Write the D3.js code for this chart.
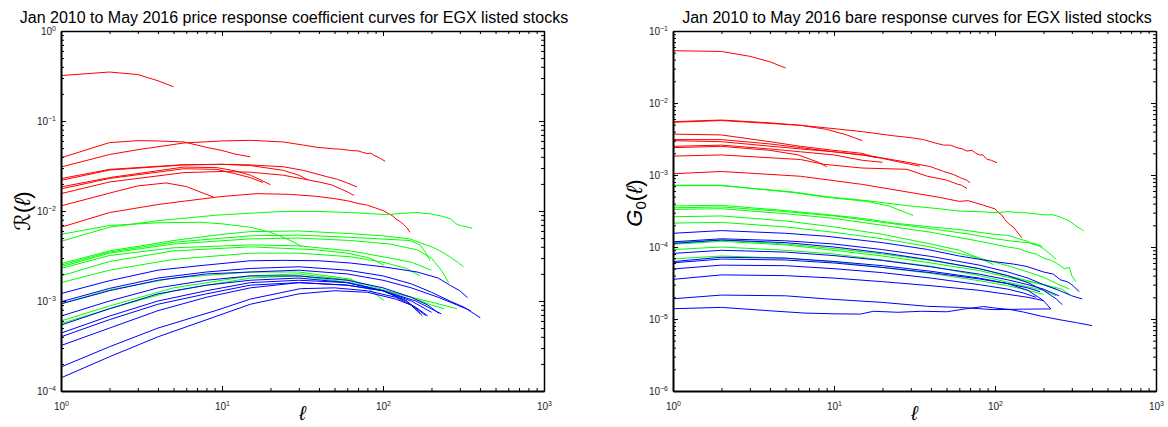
<!DOCTYPE html>
<html><head><meta charset="utf-8">
<script src="https://cdn.jsdelivr.net/npm/d3@7"></script>
<style>
body{margin:0;background:#fff;}
svg text{font-family:"Liberation Sans",Arial,Helvetica,sans-serif;}
</style>
</head><body>
<svg id="chart" width="1168" height="427"></svg>
<script>
// ---------- tick labels / axes ----------
const xTickExps = [0, 1, 2, 3];
const leftYTickExps = [-4, -3, -2, -1, 0];
const rightYTickExps = [-6, -5, -4, -3, -2, -1];
const leftTitle = "Jan 2010 to May 2016 price response coefficient curves for EGX listed stocks";
const rightTitle = "Jan 2010 to May 2016 bare response curves for EGX listed stocks";

// ---------- LEFT panel: price response coefficient R(l), series of [lag, value] ----------
const leftRed = [
  [[1,0.32],[2,0.35],[3,0.328],[4,0.28],[5,0.24]],
  [[1,0.039],[2,0.0575],[3,0.0605],[4,0.0600],[5.8,0.0585],[8,0.051],[10,0.047],[12,0.043],[15,0.040]],
  [[1,0.0308],[2,0.0424],[3,0.048],[5.8,0.057],[10,0.060],[15,0.061],[24,0.0585],[32,0.054],[39,0.051],[50,0.049],[56,0.0485],[63,0.047],[70,0.0465],[75,0.0448],[80,0.0434],[84,0.044],[88,0.0415],[95,0.039],[103,0.0357]],
  [[1,0.0229],[2,0.029],[5.8,0.0327],[10,0.033],[15,0.032],[24,0.0283],[30,0.025],[34,0.0223]],
  [[1,0.0219],[2,0.0285],[5.8,0.0325],[10,0.033],[15,0.0325],[24,0.031],[32,0.0283],[45,0.024],[52,0.0225],[60,0.0205],[69,0.0185]],
  [[1,0.0185],[2,0.0235],[5.8,0.0308],[9.3,0.0303],[12,0.028],[15,0.025],[18,0.0215],[20,0.0196]],
  [[1,0.0176],[2,0.023],[5.8,0.0295],[9.3,0.029],[12,0.026],[15,0.0235],[18,0.0207]],
  [[1,0.0156],[2,0.021],[5.8,0.0267],[10,0.0275],[15,0.027],[24,0.025],[40,0.021],[48,0.0195],[55,0.0175],[60,0.0163],[66,0.0149]],
  [[1,0.0114],[2,0.0158],[3,0.019],[4.5,0.0205],[6,0.0187],[7.5,0.016],[8.85,0.0143]],
  [[1,0.0066],[2,0.0096],[4,0.0118],[5.9,0.0129],[10,0.0145],[16.5,0.0156],[26.6,0.0153],[38,0.0146],[49,0.0138],[60,0.013],[69,0.0122],[80,0.0116],[90,0.0108],[100,0.0101],[108,0.0094],[115,0.0088],[122,0.0080],[128,0.0076],[134,0.0071],[140,0.0066],[147,0.0058]]
];
const leftGreen = [
  [[1,0.0055],[2,0.0069],[4,0.0074],[7.3,0.0075],[10,0.0072],[15,0.0066],[20,0.0058],[24,0.0051],[28,0.0045],[31.5,0.0040]],
  [[1,0.0046],[2,0.0066],[4,0.0078],[9.3,0.0090],[24,0.0099],[40,0.0099],[63,0.0096],[106,0.0091],[130,0.0094],[163,0.0096],[196,0.0093],[230,0.0088],[262,0.0082],[285,0.0072],[302,0.0069],[330,0.0067],[358,0.0064]],
  [[1,0.0026],[2,0.0036],[5,0.0047],[10,0.0055],[15,0.0059],[30,0.0060],[63,0.0056],[100,0.0053],[147,0.0049],[207,0.0039],[240,0.0034],[260,0.0031],[290,0.0027],[316,0.0024]],
  [[1,0.0025],[2,0.0035],[5,0.0045],[15,0.0053],[30,0.0054],[63,0.0051],[147,0.0047],[170,0.0042],[185,0.0034],[196,0.0028]],
  [[1,0.0024],[2,0.0034],[5,0.0043],[15,0.0049],[30,0.0050],[63,0.0047],[110,0.0043],[163,0.0037],[200,0.0030],[230,0.0022],[256,0.0016]],
  [[1,0.0023],[2,0.0032],[5,0.0039],[15,0.0042],[30,0.0041],[63,0.0036],[100,0.0031],[150,0.0027],[200,0.0022]],
  [[1,0.0019],[2,0.00275],[5,0.0036],[15,0.0040],[39,0.0037],[60,0.0034],[83,0.0030],[101,0.0025]],
  [[1,0.0016],[2,0.0022],[5,0.0029],[15,0.0034],[30,0.0034],[63,0.0031],[100,0.0027],[140,0.0023],[170,0.0019]],
  [[1,0.00093],[2,0.00133],[5,0.0018],[15,0.0021],[30,0.0021],[63,0.00175],[80,0.0014],[101,0.00102]],
  [[1,0.0006],[2,0.00088],[5,0.0014],[15,0.0019],[30,0.0020],[63,0.0017],[101,0.00133],[150,0.0011],[220,0.00093],[288,0.00082]],
  [[1,0.00056],[2,0.00082],[5,0.0013],[15,0.0018],[30,0.0019],[63,0.0016],[101,0.0013],[150,0.0011],[200,0.0009],[240,0.00082]]
];
const leftBlue = [
  [[1,0.00121],[2,0.00168],[4,0.0022],[7.3,0.00247],[15,0.0028],[24,0.00283],[40,0.0028],[63,0.00264],[100,0.0024],[163,0.0021],[220,0.0018],[262,0.00149],[300,0.0013],[335,0.00109]],
  [[1,0.00098],[2,0.00138],[4,0.0018],[8,0.0021],[15,0.0023],[30,0.0024],[60,0.0022],[100,0.0019],[150,0.00155],[200,0.00125],[260,0.0010],[320,0.00085],[402,0.00065]],
  [[1,0.00093],[2,0.0013],[4,0.0017],[8,0.0020],[15,0.0021],[30,0.0022],[60,0.0020],[100,0.0017],[150,0.0014],[220,0.0011],[290,0.0009],[350,0.00078]],
  [[1,0.00068],[2,0.0010],[4,0.0014],[8,0.0017],[15,0.0019],[30,0.0019],[60,0.0017],[100,0.0014],[150,0.0011],[190,0.0009],[222,0.00073]],
  [[1,0.00054],[2,0.00082],[4,0.0012],[8,0.0015],[15,0.0017],[30,0.0018],[60,0.0016],[100,0.0013],[140,0.0010],[184,0.00069]],
  [[1,0.00044],[2,0.00068],[4,0.0010],[8,0.0013],[15,0.0016],[30,0.0017],[60,0.0016],[100,0.0013],[140,0.0010],[170,0.00073]],
  [[1,0.0004],[2,0.00062],[4,0.00092],[8,0.0012],[15,0.0015],[30,0.0016],[60,0.0015],[100,0.0013],[150,0.0010],[200,0.00075]],
  [[1,0.00032],[2,0.0005],[4,0.00078],[8,0.0011],[15,0.0014],[30,0.0016],[60,0.0015],[100,0.0013],[160,0.0010],[230,0.00072]],
  [[1,0.000185],[2,0.00031],[4,0.0005],[9.3,0.00079],[15,0.00105],[30.6,0.00137],[50,0.0014],[80,0.0013],[120,0.0011],[160,0.00085],[190,0.00068]],
  [[1,0.00014],[2,0.00024],[4,0.0004],[9.3,0.00068],[15,0.00092],[30,0.0012],[50,0.0013],[80,0.00125],[120,0.00105],[150,0.0009],[175,0.00069]]
];

// ---------- RIGHT panel: bare response G0(l), series of [lag, value] ----------
const rightRed = [
  [[1,0.0532],[2,0.052],[3,0.0445],[4,0.0374],[5,0.0306]],
  [[1,0.0055],[2,0.0058],[4,0.0053],[6.2,0.0049],[9,0.0043],[12,0.0036],[15,0.0030]],
  [[1,0.0054],[2,0.0057],[4,0.0052],[6.2,0.0049],[10,0.0044],[15,0.0040],[23.5,0.0035],[30,0.0033],[36,0.0031],[42,0.0028],[48,0.0026],[53,0.0026],[58,0.0024],[63,0.0023],[67,0.00215],[72,0.0022],[76,0.0020],[80,0.0019],[84,0.0019],[89,0.00165],[95,0.0016],[100,0.00152],[103,0.00148]],
  [[1,0.0037],[2,0.0036],[4,0.0029],[6.2,0.0025],[10,0.0022],[14.9,0.0020],[18.4,0.00173]],
  [[1,0.0031],[2,0.0031],[4,0.0027],[6.2,0.0024],[10,0.0021],[15,0.0019],[20,0.0017],[26,0.0015],[34,0.00133]],
  [[1,0.0030],[2,0.0029],[6.2,0.0023],[10,0.0021],[16.8,0.00184],[29.7,0.00148],[40,0.0013],[48,0.00112],[55,0.00102],[62,0.0009],[66,0.00086],[70,0.00078]],
  [[1,0.0025],[2,0.0026],[4,0.0023],[6.2,0.0021],[10,0.0019],[15,0.0016],[20,0.0015]],
  [[1,0.0024],[2,0.0025],[4,0.0022],[6,0.0019],[8,0.0015],[9,0.0013]],
  [[1,0.00183],[2,0.0019],[6.2,0.00164],[8.6,0.00141],[14.9,0.00125],[28.4,0.0012],[38,0.00096],[50,0.00085],[58,0.00075],[62,0.00072],[67,0.00065]],
  [[1,0.00104],[2,0.00112],[6.2,0.00096],[15,0.00074],[30,0.00057],[45,0.00049],[60,0.00043],[68,0.00044],[76,0.00041],[85,0.00038],[95,0.00035],[100,0.00034],[105,0.0003],[110,0.00028],[115,0.00024],[125,0.0002],[130,0.00019],[135,0.00017],[147,0.000134]]
];
const rightGreen = [
  [[1,0.00072],[2,0.00072],[5.6,0.00057],[9,0.00049],[16,0.00043],[22,0.00037],[27,0.00031],[31,0.000274]],
  [[1,0.00071],[2,0.00071],[5.6,0.00058],[9,0.0005],[16,0.00044],[30,0.00037],[45,0.00034],[61,0.000314],[80,0.00031],[100,0.0003],[120,0.00031],[140,0.0003],[158,0.000298],[200,0.00028],[230,0.00028],[255,0.00026],[290,0.00023],[324,0.00019],[340,0.00018],[356,0.000166]],
  [[1,0.000372],[2,0.00038],[5,0.00032],[9,0.000282],[15,0.00025],[23.5,0.000215],[40,0.00019],[61,0.000174],[80,0.00016],[100,0.00015],[120,0.000145],[144,0.000128],[160,0.00012],[170,0.00011],[185,0.000105],[200,0.000095],[220,0.00008],[240,0.000067]],
  [[1,0.00035],[2,0.00036],[5,0.00031],[10,0.00027],[20,0.00022],[40,0.00018],[70,0.00015],[100,0.00013],[130,0.00012],[160,0.000115],[180,0.00011],[196,0.000102]],
  [[1,0.000333],[2,0.00034],[5,0.00029],[10,0.00025],[20,0.0002],[40,0.00016],[80,0.00012],[120,0.0001],[140,0.000095],[160,0.000085],[180,0.00008],[200,0.00007],[220,0.000066],[240,0.00006],[270,0.00005],[290,0.000052],[300,0.00004],[318,0.000033]],
  [[1,0.000263],[2,0.00027],[5,0.00023],[10,0.00019],[20,0.00015],[40,0.00011],[60,0.00009],[80,0.00007],[98,0.000057]],
  [[1,0.000215],[2,0.00022],[5,0.00019],[10,0.00016],[20,0.00013],[40,0.0001],[80,0.00007],[120,0.000055],[160,0.000045],[200,0.000038],[250,0.00003],[290,0.000026]],
  [[1,0.000115],[2,0.000125],[5,0.00011],[10,0.000095],[20,0.00008],[40,0.000065],[80,0.00005],[120,0.00004],[160,0.000034],[200,0.00003],[240,0.000026]],
  [[1,0.000109],[2,0.00012],[5,0.000107],[10,0.00009],[20,0.000075],[40,0.00006],[80,0.000047],[120,0.000038],[160,0.000033],[200,0.00003],[260,0.000026],[290,0.000022]],
  [[1,0.000092],[2,0.0001],[5,0.00009],[10,0.00008],[20,0.000066],[40,0.000054],[80,0.00004],[140,0.00003],[200,0.000025],[240,0.000021]],
  [[1,0.0000682],[2,0.000075],[5,0.00007],[10,0.000062],[20,0.000052],[40,0.000043],[80,0.000034],[120,0.000029],[160,0.000025],[200,0.000022]]
];
const rightBlue = [
  [[1,0.000155],[2,0.000169],[5,0.000155],[9,0.000141],[20,0.000115],[38,0.0000925],[60,0.000075],[98,0.0000627],[130,0.000058],[158,0.0000536],[200,0.000045],[230,0.000042],[255,0.000035],[280,0.000033],[300,0.00003],[334,0.000024]],
  [[1,0.000118],[2,0.00013],[5,0.000122],[10,0.00011],[20,0.000092],[40,0.000074],[80,0.000056],[120,0.000045],[160,0.000037],[200,0.00003],[250,0.000025],[300,0.000021],[348,0.000019]],
  [[1,0.000112],[2,0.000125],[5,0.000115],[10,0.0001],[20,0.000083],[40,0.000066],[80,0.00005],[120,0.00004],[160,0.000032],[200,0.000025],[240,0.000019],[262,0.0000158]],
  [[1,0.0000814],[2,0.00009],[5,0.000085],[10,0.000076],[20,0.000065],[40,0.000053],[80,0.000042],[120,0.000035],[160,0.00003],[200,0.000026],[250,0.000021]],
  [[1,0.0000627],[2,0.000072],[5,0.00007],[10,0.000063],[20,0.000055],[40,0.000046],[80,0.000037],[120,0.000031],[160,0.000025],[200,0.000018],[222,0.0000138]],
  [[1,0.0000603],[2,0.000068],[5,0.000066],[10,0.00006],[20,0.000052],[40,0.000044],[80,0.000036],[120,0.000031],[160,0.000027],[190,0.000024]],
  [[1,0.0000495],[2,0.000056],[5,0.000055],[10,0.00005],[20,0.000044],[40,0.000037],[80,0.00003],[120,0.000026],[150,0.000023],[180,0.00002]],
  [[1,0.0000355],[2,0.000041],[5,0.00004],[10,0.000037],[20,0.000033],[40,0.000029],[80,0.000025],[120,0.000022],[160,0.00002],[200,0.000018]],
  [[1,0.0000191],[2,0.0000215],[5,0.000021],[9,0.000019],[20,0.000017],[38,0.000015],[60,0.0000145],[98,0.0000135],[150,0.0000137],[222,0.0000138]],
  [[1,0.0000139],[2,0.0000145],[4,0.000013],[6.5,0.0000121],[10,0.0000118],[14.6,0.0000117],[17.6,0.0000128],[25,0.0000124],[35,0.0000128],[50,0.0000126],[65,0.0000138],[85,0.0000149],[100,0.0000142],[125,0.0000135],[150,0.0000125],[192,0.000011],[250,0.0000098],[320,0.0000089],[400,0.0000081]]
];

const colors = {red:"#ff0000", green:"#00ff00", blue:"#0000ff"};

const svg = d3.select("#chart");

const panels = [
  {x0:61, x1:544, y0:31, y1:391, yDom:[1e-4,1], yExps:leftYTickExps, title:leftTitle, titleX:294,
   red:leftRed, green:leftGreen, blue:leftBlue, ylab:"R", ylabX:30, ylabY:211},
  {x0:673, x1:1156, y0:31, y1:391, yDom:[1e-6,1e-1], yExps:rightYTickExps, title:rightTitle, titleX:917,
   red:rightRed, green:rightGreen, blue:rightBlue, ylab:"G", ylabX:642, ylabY:203}
];

function minorTicks(lo, hi) {
  const out = [];
  for (let e = Math.round(Math.log10(lo)); e < Math.round(Math.log10(hi)); e++)
    for (let m = 2; m <= 9; m++) out.push(m * Math.pow(10, e));
  return out;
}

function supLabel(sel) {
  sel.each(function(d) {
    const t = d3.select(this);
    const e = Math.round(Math.log10(d));
    t.text(null);
    t.append("tspan").text("10");
    t.append("tspan").attr("dy", "-0.55em").attr("font-size", "7px").text(String(e).replace("-", "\u2212"));
  });
}

panels.forEach(p => {
  const x = d3.scaleLog().domain([1, 1000]).range([p.x0, p.x1]);
  const y = d3.scaleLog().domain(p.yDom).range([p.y1, p.y0]);
  const g = svg.append("g");

  const line = d3.line().x(d => x(d[0])).y(d => y(d[1]));
  const groups = [["red", p.red], ["green", p.green], ["blue", p.blue]];
  groups.forEach(([c, arr]) => {
    g.append("g").selectAll("path").data(arr).join("path")
      .attr("d", line).attr("fill", "none").attr("stroke", colors[c])
      .attr("stroke-width", 1).attr("stroke-linejoin", "round");
  });

  const xMaj = xTickExps.map(e => Math.pow(10, e));
  const yMaj = p.yExps.map(e => Math.pow(10, e));
  const xMin = minorTicks(1, 1000);
  const yMin = minorTicks(p.yDom[0], p.yDom[1]);

  const axStyle = s => { s.selectAll("line").attr("stroke", "#000"); s.select(".domain").attr("stroke", "#000"); };

  const gb = g.append("g").attr("transform", `translate(0,${p.y1})`);
  gb.call(d3.axisBottom(x).tickValues(xMin).tickSize(-3).tickSizeOuter(0).tickFormat(""));
  const gb2 = g.append("g").attr("transform", `translate(0,${p.y1})`);
  gb2.call(d3.axisBottom(x).tickValues(xMaj).tickSize(-5).tickSizeOuter(0).tickPadding(12));
  gb2.selectAll(".tick text").attr("font-size", "10px").attr("fill", "#222").call(supLabel);
  gb2.select(".domain").attr("stroke-width", 2);
  const gt = g.append("g").attr("transform", `translate(0,${p.y0})`);
  gt.call(d3.axisTop(x).tickValues(xMin).tickSize(-3).tickSizeOuter(0).tickFormat(""));
  const gt2 = g.append("g").attr("transform", `translate(0,${p.y0})`);
  gt2.call(d3.axisTop(x).tickValues(xMaj).tickSize(-5).tickSizeOuter(0).tickFormat(""));
  gt2.select(".domain").attr("stroke-width", 1.5);
  const gl = g.append("g").attr("transform", `translate(${p.x0},0)`);
  gl.call(d3.axisLeft(y).tickValues(yMin).tickSize(-3).tickSizeOuter(0).tickFormat(""));
  const gl2 = g.append("g").attr("transform", `translate(${p.x0},0)`);
  gl2.call(d3.axisLeft(y).tickValues(yMaj).tickSize(-5).tickSizeOuter(0).tickPadding(5));
  gl2.selectAll(".tick text").attr("font-size", "10px").attr("fill", "#222").call(supLabel);
  gl2.select(".domain").attr("stroke-width", 2);
  const gr = g.append("g").attr("transform", `translate(${p.x1},0)`);
  gr.call(d3.axisRight(y).tickValues(yMin).tickSize(-3).tickSizeOuter(0).tickFormat(""));
  const gr2 = g.append("g").attr("transform", `translate(${p.x1},0)`);
  gr2.call(d3.axisRight(y).tickValues(yMaj).tickSize(-5).tickSizeOuter(0).tickFormat(""));
  gr2.select(".domain").attr("stroke-width", 1.5);
  [gb, gb2, gt, gt2, gl, gl2, gr, gr2].forEach(axStyle);

  g.append("text").attr("x", p.titleX).attr("y", 23).attr("text-anchor", "middle")
    .attr("font-size", "16px").attr("fill", "#000").text(p.title);

  g.append("text").attr("x", (p.x0 + p.x1) / 2).attr("y", 420).attr("text-anchor", "middle")
    .attr("font-family", "DejaVu Serif").attr("font-style", "italic").attr("font-size", "20px").text("\u2113");

  const yl = g.append("text").attr("transform", `translate(${p.ylabX},${p.ylabY}) rotate(-90)`)
    .attr("text-anchor", "middle").attr("font-size", "22px").attr("font-family", "DejaVu Serif");
  if (p.ylab === "R") {
    yl.append("tspan").attr("font-family", "DejaVu Sans").text("\u211B");
    yl.append("tspan").text("(");
    yl.append("tspan").attr("font-style", "italic").text("\u2113");
    yl.append("tspan").text(")");
  } else {
    yl.append("tspan").attr("font-style", "italic").text("G");
    yl.append("tspan").attr("font-size", "15px").attr("dy", "4").text("0");
    yl.append("tspan").attr("dy", "-4").text("(");
    yl.append("tspan").attr("font-style", "italic").text("\u2113");
    yl.append("tspan").text(")");
  }
});
</script>
</body></html>
